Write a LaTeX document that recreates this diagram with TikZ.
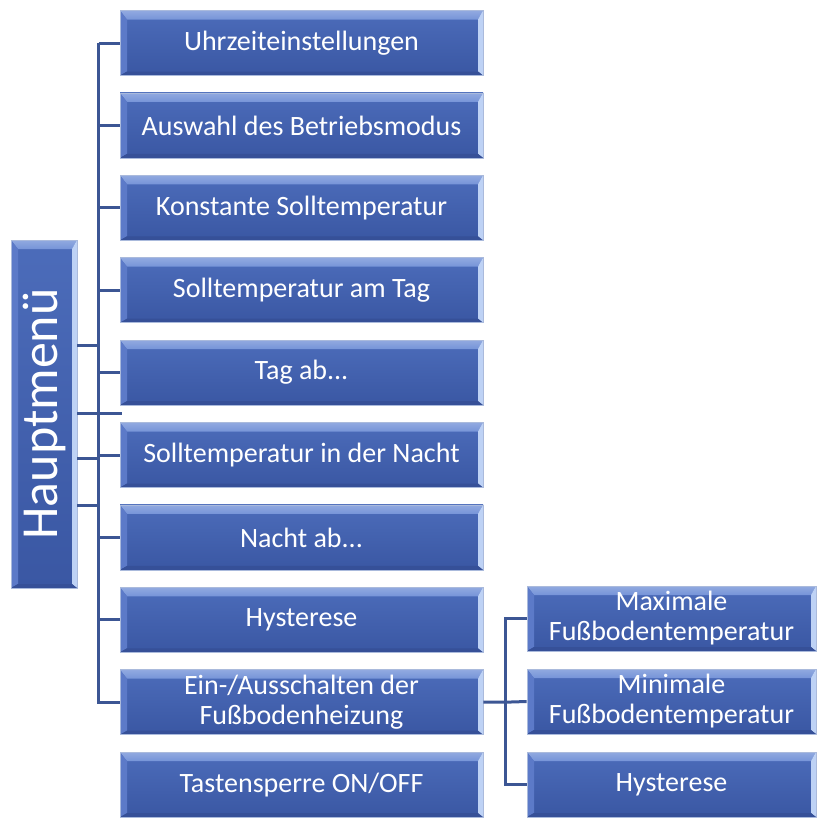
\documentclass[tikz,border=0pt]{standalone}
\usepackage{fontspec}
\setmainfont{Carlito}
\definecolor{linec}{RGB}{60,86,148}
\definecolor{boxtop}{RGB}{76,108,186}
\definecolor{boxbot}{RGB}{58,87,163}
\definecolor{bevtop}{RGB}{118,148,216}
\definecolor{bevleft}{RGB}{92,122,200}
\definecolor{bevright}{RGB}{190,210,245}
\definecolor{bevbot}{RGB}{54,80,152}
\definecolor{boxedge}{RGB}{170,186,220}
\tikzset{
  bevel/.style={path picture={
    \coordinate (pNW) at (path picture bounding box.north west);
    \coordinate (pNE) at (path picture bounding box.north east);
    \coordinate (pSW) at (path picture bounding box.south west);
    \coordinate (pSE) at (path picture bounding box.south east);
    \coordinate (iNW) at ([shift={(7pt,-9pt)}]pNW);
    \coordinate (iNE) at ([shift={(-5pt,-9pt)}]pNE);
    \coordinate (iSW) at ([shift={(7pt,4pt)}]pSW);
    \coordinate (iSE) at ([shift={(-5pt,4pt)}]pSE);
    \shade[top color=bevtop!80!white, bottom color=bevtop] (pNW) -- (pNE) -- (iNE) -- (iNW) -- cycle;
    \fill[bevleft] (pNW) -- (iNW) -- (iSW) -- (pSW) -- cycle;
    \fill[bevright] (pNE) -- (pSE) -- (iSE) -- (iNE) -- cycle;
    \fill[bevbot] (pSW) -- (iSW) -- (iSE) -- (pSE) -- cycle;
  }},
  mbox/.style={bevel, draw=boxedge, line width=0.8pt, top color=boxtop, bottom color=boxbot,
    text=white, align=center, inner sep=0pt, minimum height=65pt,
    font=\fontsize{28}{30}\selectfont},
  mainbox/.style={mbox, minimum width=363pt},
  subbox/.style={mbox, minimum width=289pt},
  conn/.style={draw=linec, line width=3pt},
}
\begin{document}
\begin{tikzpicture}[x=1pt, y=-1pt]
\useasboundingbox (0,0) rectangle (822,825);
% root
\node[mbox, minimum width=66pt, minimum height=348pt] (hm) at (44,414)
  {\rotatebox{90}{\fontsize{52}{52}\selectfont Hauptmenü}};
% main column
\node[mainbox] (u1) at (301.5,43) {Uhrzeiteinstellungen};
\node[mainbox] (u2) at (301.5,125.4) {Auswahl des Betriebsmodus};
\node[mainbox] (u3) at (301.5,207.8) {Konstante Solltemperatur};
\node[mainbox] (u4) at (301.5,290.2) {Solltemperatur am Tag};
\node[mainbox] (u5) at (301.5,372.6) {Tag ab...};
\node[mainbox] (u6) at (301.5,455) {Solltemperatur in der Nacht};
\node[mainbox] (u7) at (301.5,537.4) {Nacht ab...};
\node[mainbox] (u8) at (301.5,619.8) {Hysterese};
\node[mainbox] (u9) at (301.5,702.2) {Ein-/Ausschalten der\\Fußbodenheizung};
\node[mainbox] (u10) at (301.5,784.6) {Tastensperre ON/OFF};
% sub column
\node[subbox] (r1) at (671.5,618.5) {Maximale\\Fußbodentemperatur};
\node[subbox] (r2) at (671.5,701.5) {Minimale\\Fußbodentemperatur};
\node[subbox] (r3) at (671.5,784.5) {Hysterese};
% trunk
\coordinate (T) at (98.5,43);
\foreach \k in {1,...,9} {\draw[conn] (T) |- (u\k.west);}
% links from root to trunk
\coordinate (h1) at (98.5,345);
\coordinate (h2) at (122,413);
\coordinate (h3) at (98.5,458);
\coordinate (h4) at (98.5,505);
\draw[conn] (h1 -| hm.east) -- (h1);
\draw[conn] (h2 -| hm.east) -- (h2);
\draw[conn] (h3 -| hm.east) -- (h3);
\draw[conn] (h4 -| hm.east) -- (h4);
% sub tree
\coordinate (S) at (505,618.5);
\draw[conn] (u9.east) -- (u9.east -| S) -- (r2.west);
\draw[conn] (r1.west) -- (S) |- (r3.west);
\end{tikzpicture}
\end{document}
